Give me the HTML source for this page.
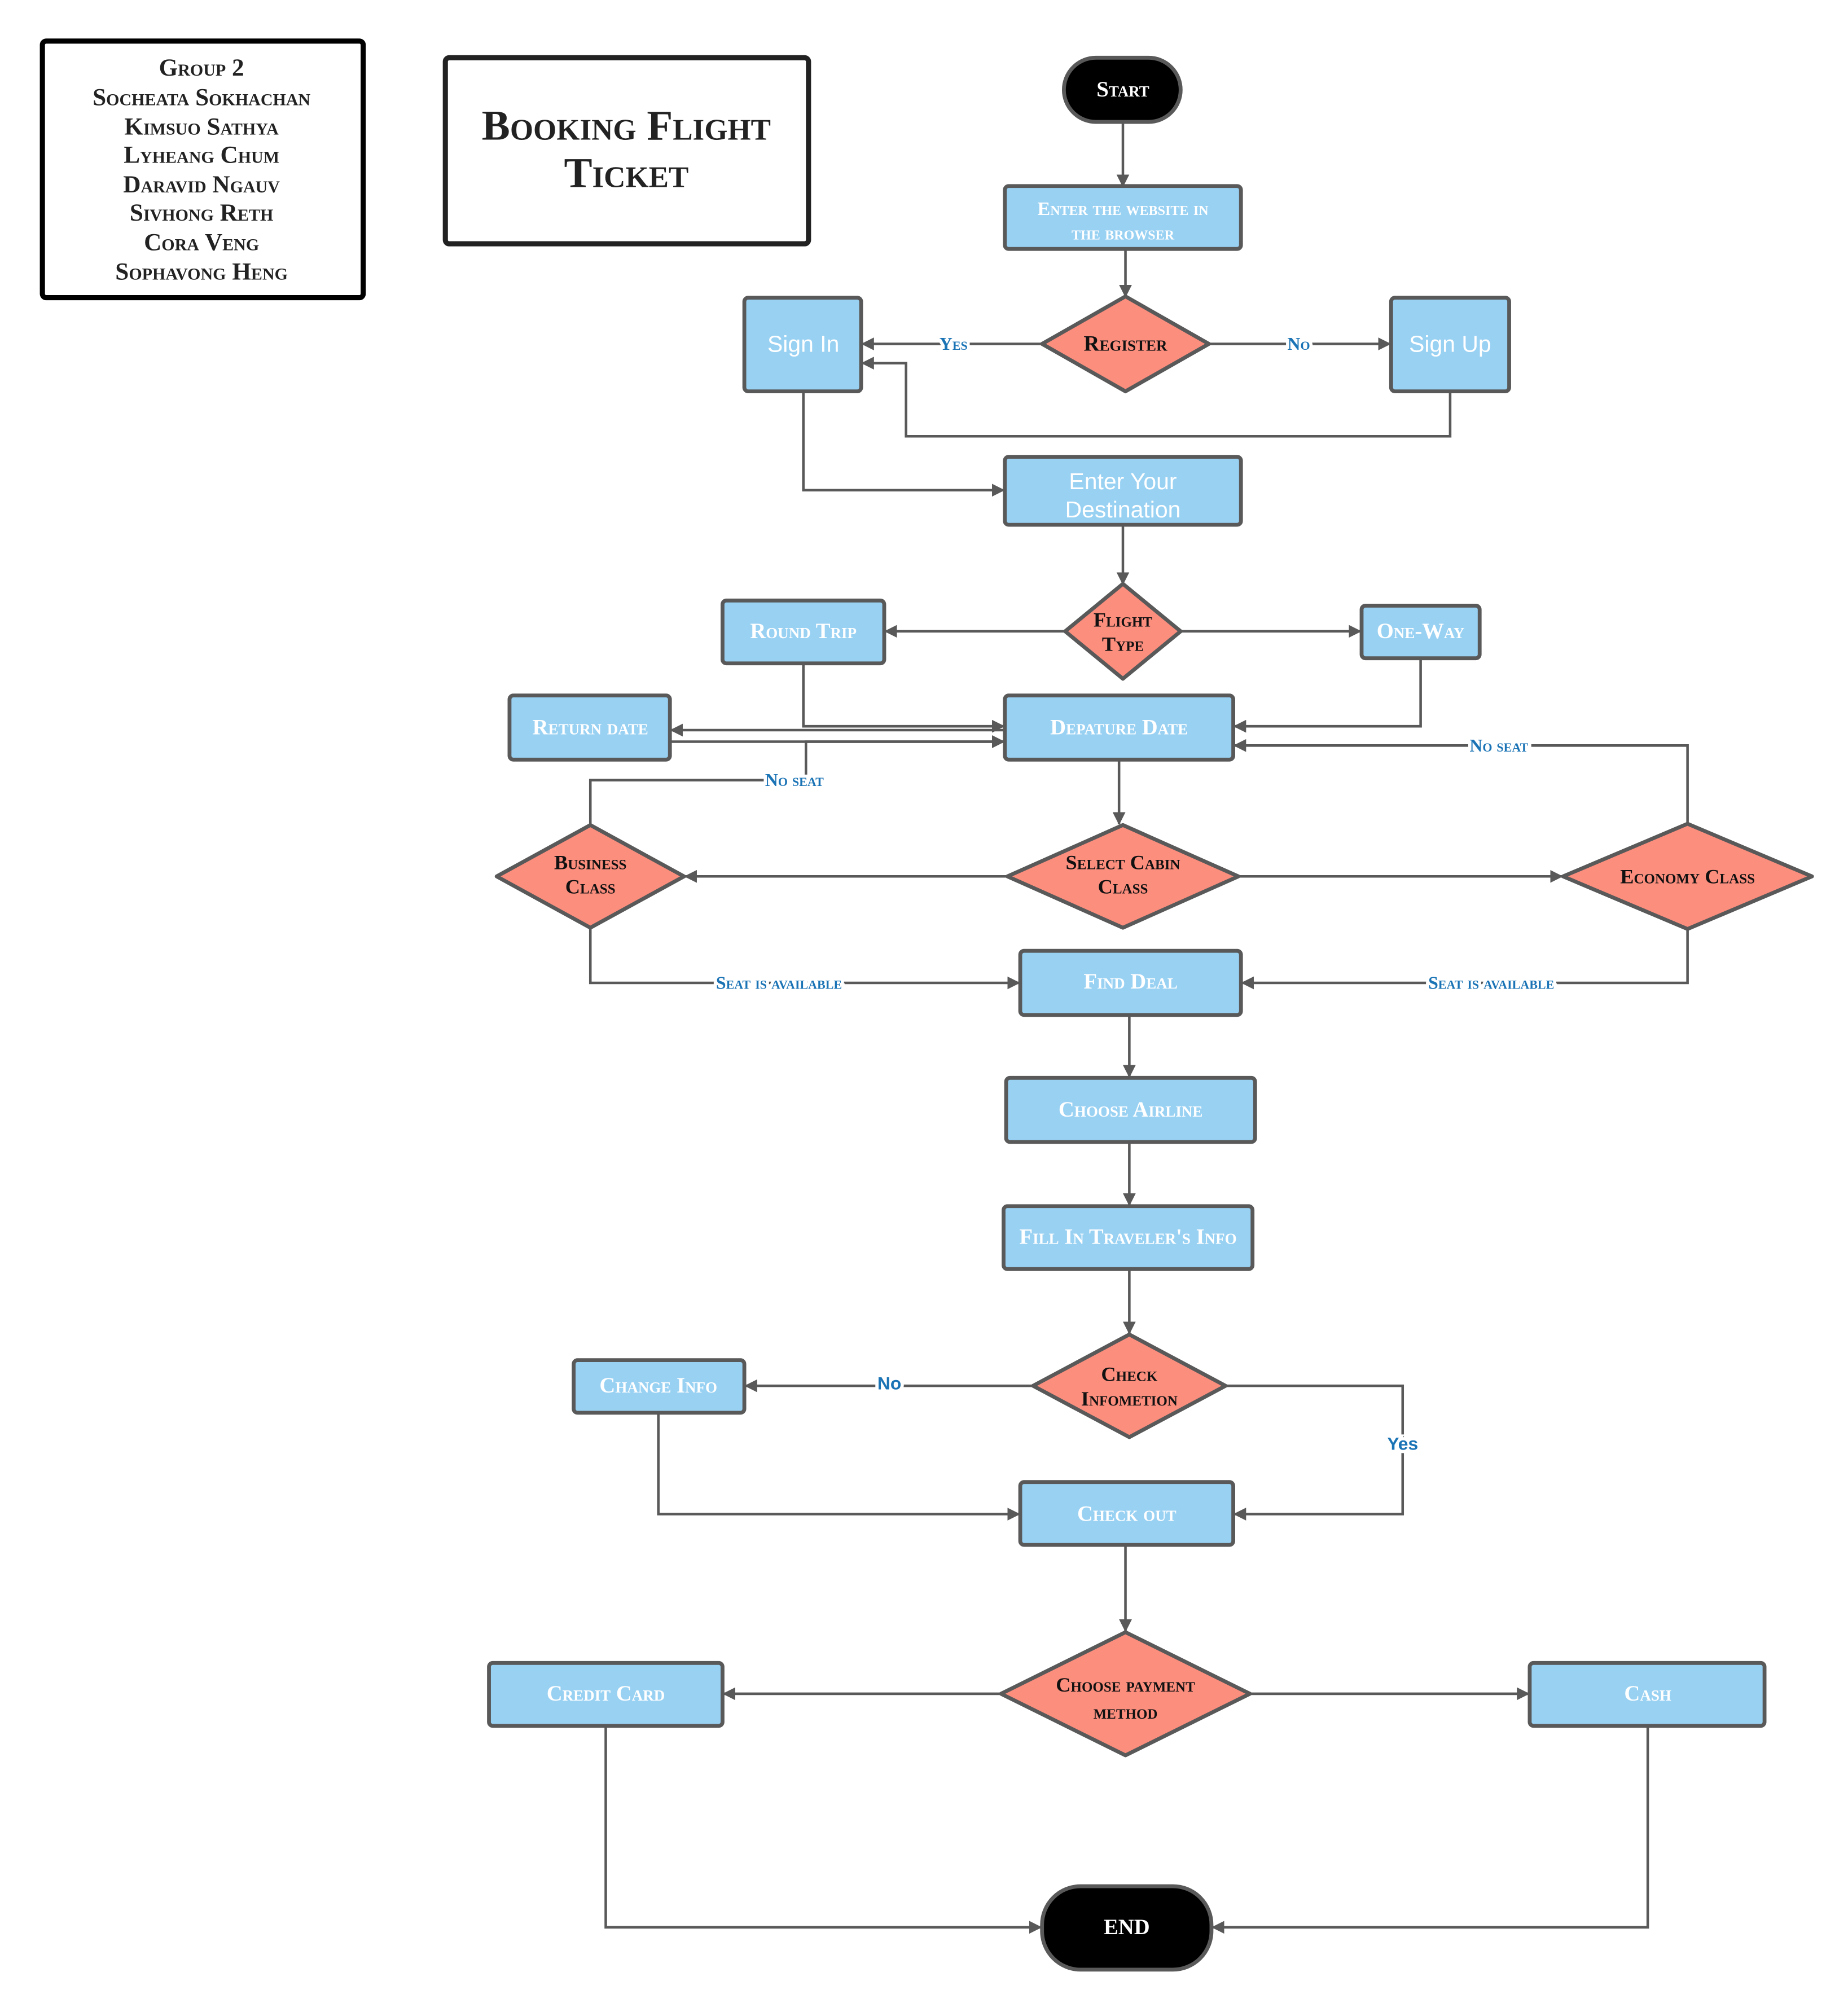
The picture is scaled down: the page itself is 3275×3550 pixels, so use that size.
<!DOCTYPE html>
<html><head><meta charset="utf-8"><style>
html,body{margin:0;padding:0;background:#fff;}
svg{display:block;}
.b{fill:#99d1f3;stroke:#595959;stroke-width:3;}
.d{fill:#fc8e7e;stroke:#595959;stroke-width:3;stroke-linejoin:round;}
.l{fill:none;stroke:#595959;stroke-width:2;}
.t{font-family:"Liberation Serif",serif;font-weight:bold;font-variant:small-caps;text-anchor:middle;dominant-baseline:central;}
.w{fill:#fff;font-size:17px;}
.k{fill:#111;font-size:17px;}
.s{font-family:"Liberation Sans",sans-serif;fill:#fff;font-size:18px;text-anchor:middle;dominant-baseline:central;}
.lab{font-family:"Liberation Serif",serif;font-weight:bold;font-variant:small-caps;fill:#1a73b5;font-size:14px;text-anchor:middle;dominant-baseline:central;stroke:#fff;stroke-width:5;paint-order:stroke;}
.lab2{font-family:"Liberation Sans",sans-serif;font-weight:bold;fill:#1a73b5;font-size:14px;text-anchor:middle;dominant-baseline:central;stroke:#fff;stroke-width:5;paint-order:stroke;}
</style></head><body>
<svg width="3275" height="3550" viewBox="0 0 1440 1561" xmlns="http://www.w3.org/2000/svg">
<defs><marker id="a" markerWidth="10" markerHeight="10" refX="9" refY="5" orient="auto" markerUnits="userSpaceOnUse"><path d="M0,0 L10,5 L0,10 z" fill="#595959"/></marker></defs>

<!-- group box -->
<rect x="33" y="32" width="250" height="200" rx="3" fill="#fff" stroke="#000" stroke-width="4"/>
<g class="t" style="fill:#222;font-size:19px">
<text x="157" y="53">Group 2</text><text x="157" y="76">Socheata Sokhachan</text><text x="157" y="99">Kimsuo Sathya</text><text x="157" y="121">Lyheang Chum</text><text x="157" y="144">Daravid Ngauv</text><text x="157" y="166">Sivhong Reth</text><text x="157" y="189">Cora Veng</text><text x="157" y="212">Sophavong Heng</text>
</g>
<rect x="347" y="45" width="283" height="145" rx="3" fill="#fff" stroke="#222" stroke-width="4"/>
<text class="t" x="488" y="98" style="fill:#222;font-size:33px">Booking Flight</text>
<text class="t" x="488" y="135" style="fill:#222;font-size:33px">Ticket</text>

<!-- connectors -->
<g class="l" marker-end="url(#a)">
<path d="M875,95 V145"/>
<path d="M877,194 V231"/>
<path d="M812,268 H672"/>
<path d="M942,268 H1083"/>
<path d="M1130,305 V340 H706 V283 H672"/>
<path d="M626,305 V382 H782"/>
<path d="M875,409 V455"/>
<path d="M830,492 H690"/>
<path d="M920,492 H1060"/>
<path d="M626,517 V566 H782"/>
<path d="M1107,513 V566 H962"/>
<path d="M783,569 H523"/>
<path d="M523,578 H782"/>
<path d="M460,642 V608 H628 V578 H782"/>
<path d="M1315,642 V581 H962"/>
<path d="M872,592 V642"/>
<path d="M785,683 H534"/>
<path d="M965,683 H1217"/>
<path d="M460,723 V766 H794"/>
<path d="M1315,724 V766 H968"/>
<path d="M880,791 V839"/>
<path d="M880,890 V939"/>
<path d="M880,989 V1039"/>
<path d="M805,1080 H581"/>
<path d="M955,1080 H1093 V1180 H962"/>
<path d="M513,1101 V1180 H794"/>
<path d="M877,1204 V1271"/>
<path d="M780,1320 H564"/>
<path d="M974,1320 H1191"/>
<path d="M472,1345 V1502 H811"/>
<path d="M1284,1345 V1502 H945"/>
</g>
<text class="lab" x="743" y="268">Yes</text>
<text class="lab" x="1012" y="268">No</text>
<text class="lab" x="619" y="608">No seat</text>
<text class="lab" x="1168" y="581">No seat</text>
<text class="lab" x="607" y="766">Seat is available</text>
<text class="lab" x="1162" y="766">Seat is available</text>
<text class="lab2" x="693" y="1078">No</text>
<text class="lab2" x="1093" y="1125">Yes</text>

<!-- nodes -->
<rect x="829" y="45" width="91" height="50" rx="25" fill="#000" stroke="#595959" stroke-width="3"/>
<text class="t w" x="875" y="70">Start</text>

<rect class="b" x="783" y="145" width="184" height="49" rx="3"/>
<text class="t w" x="875" y="163" style="font-size:15px">Enter the website in</text>
<text class="t w" x="875" y="182" style="font-size:15px">the browser</text>

<polygon class="d" points="877,231 942,268 877,305 812,268"/>
<text class="t k" x="877" y="268">Register</text>

<rect class="b" x="580" y="232" width="91" height="73" rx="3"/>
<text class="s" x="626" y="268">Sign In</text>
<rect class="b" x="1084" y="232" width="92" height="73" rx="3"/>
<text class="s" x="1130" y="268">Sign Up</text>

<rect class="b" x="783" y="356" width="184" height="53" rx="3"/>
<text class="s" x="875" y="375">Enter Your</text>
<text class="s" x="875" y="397">Destination</text>

<polygon class="d" points="875,455 920,492 875,529 830,492"/>
<text class="t k" x="875" y="483" style="font-size:16px">Flight</text>
<text class="t k" x="875" y="502" style="font-size:16px">Type</text>

<rect class="b" x="563" y="468" width="126" height="49" rx="3"/>
<text class="t w" x="626" y="492">Round Trip</text>
<rect class="b" x="1061" y="472" width="92" height="41" rx="3"/>
<text class="t w" x="1107" y="492">One-Way</text>

<rect class="b" x="397" y="542" width="125" height="50" rx="3"/>
<text class="t w" x="460" y="567">Return date</text>
<rect class="b" x="783" y="542" width="178" height="50" rx="3"/>
<text class="t w" x="872" y="567">Depature Date</text>

<polygon class="d" points="875,643 965,683 875,723 785,683"/>
<text class="t k" x="875" y="672" style="font-size:16px">Select Cabin</text>
<text class="t k" x="875" y="691" style="font-size:16px">Class</text>

<polygon class="d" points="460,643 533,683 460,723 387,683"/>
<text class="t k" x="460" y="672" style="font-size:16px">Business</text>
<text class="t k" x="460" y="691" style="font-size:16px">Class</text>

<polygon class="d" points="1315,642 1412,683 1315,724 1218,683"/>
<text class="t k" x="1315" y="683" style="font-size:16px">Economy Class</text>

<rect class="b" x="795" y="741" width="172" height="50" rx="3"/>
<text class="t w" x="881" y="765">Find Deal</text>
<rect class="b" x="784" y="840" width="194" height="50" rx="3"/>
<text class="t w" x="881" y="865">Choose Airline</text>
<rect class="b" x="782" y="940" width="194" height="49" rx="3"/>
<text class="t w" x="879" y="964">Fill In Traveler's Info</text>

<polygon class="d" points="880,1040 955,1080 880,1120 805,1080"/>
<text class="t k" x="880" y="1071" style="font-size:16px">Check</text>
<text class="t k" x="880" y="1090" style="font-size:16px">Infometion</text>

<rect class="b" x="447" y="1060" width="133" height="41" rx="3"/>
<text class="t w" x="513" y="1080">Change Info</text>
<rect class="b" x="795" y="1155" width="166" height="49" rx="3"/>
<text class="t w" x="878" y="1180">Check out</text>

<polygon class="d" points="877,1272 974,1320 877,1368 780,1320"/>
<text class="t k" x="877" y="1313" style="font-size:16px">Choose payment</text>
<text class="t k" x="877" y="1334" style="font-size:16px">method</text>

<rect class="b" x="381" y="1296" width="182" height="49" rx="3"/>
<text class="t w" x="472" y="1320">Credit Card</text>
<rect class="b" x="1192" y="1296" width="183" height="49" rx="3"/>
<text class="t w" x="1284" y="1320">Cash</text>

<rect x="812" y="1470" width="132" height="65" rx="30" fill="#000" stroke="#595959" stroke-width="3"/>
<text class="t w" x="878" y="1502">END</text>
</svg>
</body></html>
